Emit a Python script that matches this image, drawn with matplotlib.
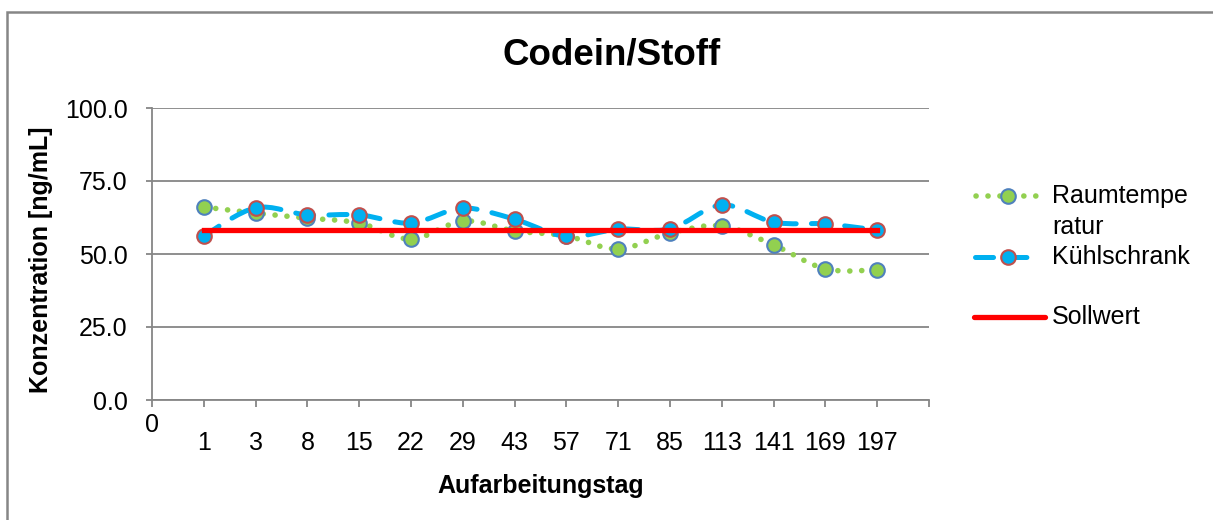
import numpy as np
import matplotlib
matplotlib.use("Agg")
import matplotlib.pyplot as plt
from matplotlib.path import Path
from matplotlib.patches import PathPatch, Rectangle
from matplotlib.lines import Line2D

plt.rcParams['font.family'] = ['Liberation Sans', 'DejaVu Sans']
plt.rcParams['lines.scale_dashes'] = False

# Daten
tage = ["1", "3", "8", "15", "22", "29", "43", "57", "71", "85", "113", "141", "169", "197"]
raumtemperatur = [66.1, 64.0, 62.3, 60.6, 55.1, 61.3, 57.9, 56.2, 51.7, 57.2, 59.6, 53.1, 44.9, 44.5]
kuehlschrank = [56.2, 65.8, 63.4, 63.4, 60.6, 65.7, 61.9, 56.0, 58.5, 58.6, 66.8, 60.9, 60.3, 58.2]
sollwert = [58.2] * len(tage)

W, H = 1213, 520
fig = plt.figure(figsize=(W / 100, H / 100), dpi=100)
ax = fig.add_axes([152 / W, 1 - 400 / H, (929 - 152) / W, 292 / H])

pos = np.arange(1, len(tage) + 1)

grau = "#868686"
gruen = "#92D050"
blau = "#00B0F0"
ms = 10.5


# geglaettete Linie wie in Excel (Catmull-Rom -> Bezier)
def smooth_path(x, y):
    x = np.asarray(x, float)
    y = np.asarray(y, float)
    verts = [(x[0], y[0])]
    codes = [Path.MOVETO]
    n = len(x)
    for i in range(n - 1):
        i0 = max(i - 1, 0)
        i3 = min(i + 2, n - 1)
        c1 = (x[i] + (x[i + 1] - x[i0]) / 6, y[i] + (y[i + 1] - y[i0]) / 6)
        c2 = (x[i + 1] - (x[i3] - x[i]) / 6, y[i + 1] - (y[i3] - y[i]) / 6)
        verts += [c1, c2, (x[i + 1], y[i + 1])]
        codes += [Path.CURVE4] * 3
    return Path(verts, codes)


p1 = PathPatch(smooth_path(pos, raumtemperatur), fill=False, edgecolor=gruen,
               lw=4, linestyle=(0, (0.1, 8.5)), capstyle='round', zorder=2)
ax.add_patch(p1)
ax.plot(pos, raumtemperatur, 'o', ms=ms, mfc=gruen, mec="#4F81BD", mew=1.5, zorder=2.1)

p2 = PathPatch(smooth_path(pos, kuehlschrank), fill=False, edgecolor=blau,
               lw=3.6, linestyle=(0, (13, 11)), capstyle='round', zorder=2.2)
ax.add_patch(p2)
ax.plot(pos, kuehlschrank, 'o', ms=ms, mfc=blau, mec="#C0504D", mew=1.5, zorder=2.3)

ax.plot(pos, sollwert, color="#FF0000", lw=3.8, zorder=2.4)

ax.set_xlim(0, len(tage) + 1)
ax.set_ylim(0, 100)
ax.set_yticks([0, 25, 50, 75, 100])
ax.set_yticklabels([f"{v:.1f}" for v in [0, 25, 50, 75, 100]])
ax.set_xticks(np.arange(0, len(tage) + 2))
ax.set_xticklabels([""] + tage + [""])
ax.text(0, -0.085, "0", transform=ax.get_xaxis_transform(), ha='center', va='center', fontsize=18)

ax.grid(axis='y', color=grau, lw=1.3)
ax.set_axisbelow(True)
for s in ['top', 'right']:
    ax.spines[s].set_visible(False)
for s in ['left', 'bottom']:
    ax.spines[s].set_color(grau)
    ax.spines[s].set_linewidth(1.3)
ax.tick_params(axis='x', length=5, color=grau, width=1.3, labelsize=18, pad=17)
ax.tick_params(axis='y', length=4.5, color=grau, width=1.3, labelsize=18, pad=13)

fig.text(612 / W, 1 - 55 / H, "Codein/Stoff", ha='center', va='center', fontsize=26.5, fontweight='bold')
fig.text(541 / W, 1 - 486 / H, "Aufarbeitungstag", ha='center', va='center', fontsize=18, fontweight='bold')
fig.text(41 / W, 1 - 260 / H, "Konzentration [ng/mL]", ha='center', va='center', rotation=90,
         fontsize=18, fontweight='bold')

# Legende von Hand
def fx(px):
    return px / W


def fy(py):
    return 1 - py / H


fig.add_artist(Line2D([fx(976), fx(1037)], [fy(196), fy(196)], color=gruen, lw=4,
                      linestyle=(0, (0.1, 8.5)), solid_capstyle='round', dash_capstyle='round'))
fig.add_artist(Line2D([fx(1008)], [fy(196)], marker='o', ms=ms, mfc=gruen, mec="#4F81BD", mew=1.5))
fig.add_artist(Line2D([fx(975), fx(1037)], [fy(257), fy(257)], color=blau, lw=3.6,
                      linestyle=(0, (13, 11)), dash_capstyle='round'))
fig.add_artist(Line2D([fx(1008)], [fy(257)], marker='o', ms=ms, mfc=blau, mec="#C0504D", mew=1.5))
fig.add_artist(Line2D([fx(974), fx(1045)], [fy(317), fy(317)], color="#FF0000", lw=3.8,
                      solid_capstyle='round'))
fig.text(fx(1052), fy(196), "Raumtempe", va='center', fontsize=18)
fig.text(fx(1052), fy(227), "ratur", va='center', fontsize=18)
fig.text(fx(1052), fy(257), "Kühlschrank", va='center', fontsize=18)
fig.text(fx(1052), fy(317), "Sollwert", va='center', fontsize=18)

# Rahmen
fig.add_artist(Rectangle((fx(7), fy(H + 20)), 1.2, fy(12) - fy(H + 20), fill=False,
                         edgecolor=grau, lw=1.8, transform=fig.transFigure))

fig.savefig("out.png", dpi=100)
